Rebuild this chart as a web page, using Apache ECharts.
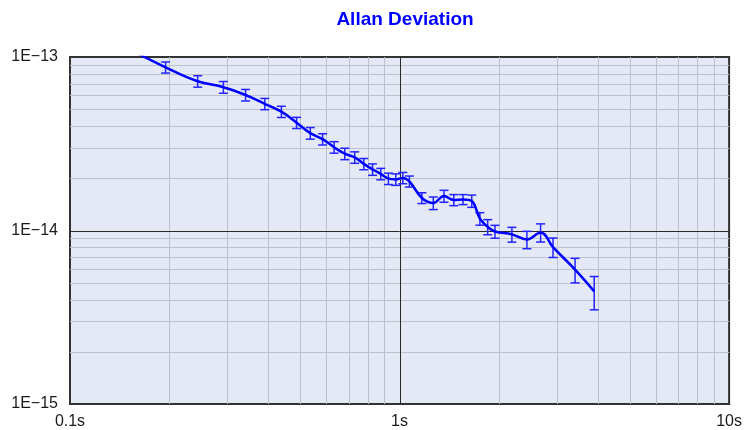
<!DOCTYPE html>
<html>
<head>
<meta charset="utf-8">
<script src="https://cdn.jsdelivr.net/npm/echarts@6/dist/echarts.min.js"></script>
<style>
  html, body { margin: 0; padding: 0; background: #ffffff; }
  #chart { width: 745px; height: 430px; }
</style>
</head>
<body>
<div id="chart"></div>
<script>
// Averaging time tau (seconds)
const tau = [
  0.146, 0.195, 0.244, 0.292, 0.341, 0.390, 0.438, 0.487, 0.536, 0.584,
  0.633, 0.682, 0.731, 0.779, 0.828, 0.877, 0.925, 0.974, 1.023, 1.071,
  1.169, 1.266, 1.364, 1.461, 1.558, 1.656, 1.753, 1.851, 1.948, 2.192,
  2.435, 2.679, 2.922, 3.409, 3.896
];
// Allan deviation at each tau
const adev = [
  1.15e-13, 8.72e-14, 7.25e-14, 6.70e-14, 6.04e-14, 5.37e-14, 4.84e-14, 4.18e-14, 3.64e-14, 3.36e-14,
  3.02e-14, 2.77e-14, 2.64e-14, 2.42e-14, 2.25e-14, 2.12e-14, 1.99e-14, 1.97e-14, 2.01e-14, 1.92e-14,
  1.54e-14, 1.44e-14, 1.58e-14, 1.50e-14, 1.51e-14, 1.48e-14, 1.17e-14, 1.05e-14, 9.87e-15, 9.50e-15,
  8.87e-15, 9.75e-15, 8.02e-15, 5.95e-15, 4.46e-15
];
// One-sigma uncertainty of each point
const adevErr = [
  8.5e-15, 6.4e-15, 5.5e-15, 5.2e-15, 4.6e-15, 4.0e-15, 3.6e-15, 3.1e-15, 2.8e-15, 2.5e-15,
  2.3e-15, 2.1e-15, 2.0e-15, 1.8e-15, 1.7e-15, 1.6e-15, 1.5e-15, 1.5e-15, 1.5e-15, 1.4e-15,
  1.1e-15, 1.2e-15, 1.25e-15, 1.1e-15, 1.0e-15, 1.2e-15, 0.97e-15, 1.05e-15, 0.84e-15, 0.93e-15,
  1.02e-15, 1.17e-15, 1.03e-15, 0.96e-15, 0.97e-15
];

// Axis ranges and tick labels
const xRange = [0.1, 10];
const yRange = [1e-15, 1e-13];
const xTickLabels = { '-1': '0.1s', '0': '1s', '1': '10s' };
const yTickLabels = { '-15': '1E\u221215', '-14': '1E\u221214', '-13': '1E\u221213' };

// Grid line positions
const xMinorGrid = [0.2, 0.3, 0.4, 0.5, 0.6, 0.7, 0.8, 0.9, 2, 3, 4, 5, 6, 7, 8, 9];
const yMinorGrid = [2e-15, 3e-15, 4e-15, 5e-15, 6e-15, 7e-15, 8e-15, 9e-15,
                    2e-14, 3e-14, 4e-14, 5e-14, 6e-14, 7e-14, 8e-14, 9e-14];
const xMajorGrid = [1];
const yMajorGrid = [1e-14];

const FONT = '"Liberation Sans", Arial, sans-serif';
const BLUE = '#0000ff';

function vLines(values, color, width) {
  return {
    type: 'custom',
    silent: true,
    z: 1,
    clip: true,
    data: values.map(v => [v, 1e-14]),
    encode: { x: 0, y: 1 },
    renderItem(params, api) {
      const cs = params.coordSys;
      const p = api.coord([api.value(0), 1e-14]);
      const x = Math.round(p[0]) + 0.5;
      return {
        type: 'line',
        shape: { x1: x, y1: cs.y, x2: x, y2: cs.y + cs.height },
        style: { stroke: color, lineWidth: width }
      };
    }
  };
}

function hLines(values, color, width) {
  return {
    type: 'custom',
    silent: true,
    z: 1,
    clip: true,
    data: values.map(v => [1, v]),
    encode: { x: 0, y: 1 },
    renderItem(params, api) {
      const cs = params.coordSys;
      const p = api.coord([1, api.value(1)]);
      const y = Math.round(p[1]) + 0.5;
      return {
        type: 'line',
        shape: { x1: cs.x, y1: y, x2: cs.x + cs.width, y2: y },
        style: { stroke: color, lineWidth: width }
      };
    }
  };
}

const chart = echarts.init(document.getElementById('chart'), null, { renderer: 'canvas' });

chart.setOption({
  animation: false,
  backgroundColor: '#ffffff',
  title: {
    text: 'Allan Deviation',
    left: 400,
    textAlign: 'center',
    top: 5,
    textStyle: { fontFamily: FONT, fontSize: 19, fontWeight: 'bold', color: BLUE }
  },
  grid: {
    left: 70, right: 15, top: 57, bottom: 26,
    show: true,
    backgroundColor: '#e4e9f5',
    borderColor: '#333333',
    borderWidth: 2
  },
  xAxis: {
    type: 'log',
    logBase: 10,
    min: xRange[0],
    max: xRange[1],
    axisLine: { show: false },
    axisTick: { show: false },
    splitLine: { show: false },
    axisLabel: {
      showMinLabel: true,
      showMaxLabel: true,
      margin: 10,
      fontFamily: FONT,
      fontSize: 16,
      color: '#1a1a1a',
      formatter: v => xTickLabels[String(Math.round(Math.log10(v)))] || ''
    }
  },
  yAxis: {
    type: 'log',
    logBase: 10,
    min: yRange[0],
    max: yRange[1],
    axisLine: { show: false },
    axisTick: { show: false },
    splitLine: { show: false },
    axisLabel: {
      showMinLabel: true,
      showMaxLabel: true,
      margin: 12,
      fontFamily: FONT,
      fontSize: 16,
      color: '#1a1a1a',
      formatter: v => yTickLabels[String(Math.round(Math.log10(v)))] || ''
    }
  },
  series: [
    vLines(xMinorGrid, '#bcc2cd', 1),
    hLines(yMinorGrid, '#bcc2cd', 1),
    vLines(xMajorGrid, '#2a2a2a', 1),
    hLines(yMajorGrid, '#2a2a2a', 1),
    {
      // error bars with caps
      type: 'custom',
      z: 3,
      clip: true,
      silent: true,
      data: tau.map((t, i) => [t, adev[i], adevErr[i]]),
      encode: { x: 0, y: 1 },
      renderItem(params, api) {
        const x = api.value(0), v = api.value(1), e = api.value(2);
        const top = api.coord([x, v + e]);
        const bot = api.coord([x, v - e]);
        const cap = 4.5;
        const style = { stroke: '#2424ff', lineWidth: 1.5 };
        return {
          type: 'group',
          children: [
            { type: 'line', shape: { x1: top[0], y1: top[1], x2: bot[0], y2: bot[1] }, style },
            { type: 'line', shape: { x1: top[0] - cap, y1: top[1], x2: top[0] + cap, y2: top[1] }, style },
            { type: 'line', shape: { x1: bot[0] - cap, y1: bot[1], x2: bot[0] + cap, y2: bot[1] }, style }
          ]
        };
      }
    },
    {
      type: 'line',
      z: 4,
      clip: true,
      silent: true,
      smooth: 0.4,
      showSymbol: false,
      data: tau.map((t, i) => [t, adev[i]]),
      lineStyle: { color: BLUE, width: 2.5 }
    }
  ]
});
</script>
</body>
</html>
